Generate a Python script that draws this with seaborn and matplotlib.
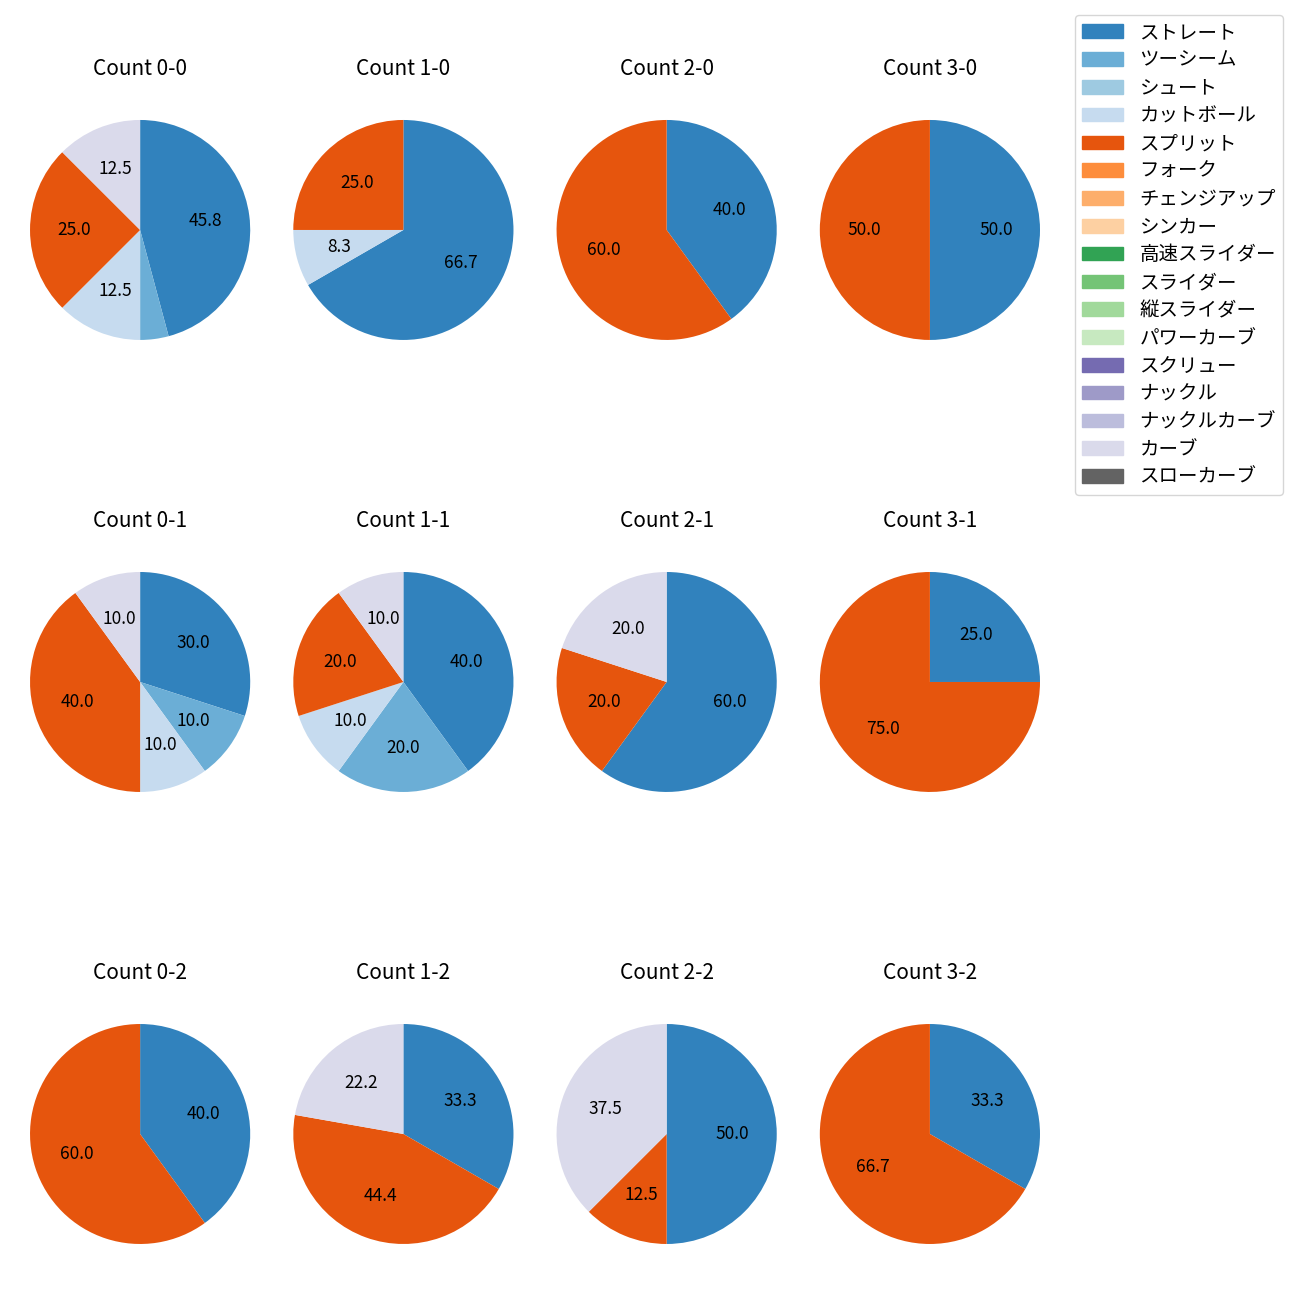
import matplotlib.pyplot as plt
import matplotlib.patches as mpatches
import seaborn as sns

# pitch types (legend order) and counts per ball-strike state
pitch_types = ["ストレート", "ツーシーム", "シュート", "カットボール", "スプリット", "フォーク",
               "チェンジアップ", "シンカー", "高速スライダー", "スライダー", "縦スライダー",
               "パワーカーブ", "スクリュー", "ナックル", "ナックルカーブ", "カーブ", "スローカーブ"]

counts = ["0-0", "1-0", "2-0", "3-0",
          "0-1", "1-1", "2-1", "3-1",
          "0-2", "1-2", "2-2", "3-2"]

# number of pitches: straight, two-seam, cutball, split, curve
straight = [11, 8, 2, 1, 3, 4, 3, 1, 2, 3, 4, 1]
two_seam = [1, 0, 0, 0, 1, 2, 0, 0, 0, 0, 0, 0]
cutball = [3, 1, 0, 0, 1, 1, 0, 0, 0, 0, 0, 0]
split = [6, 3, 3, 1, 4, 2, 1, 3, 3, 4, 1, 2]
curve = [3, 0, 0, 0, 1, 1, 1, 0, 0, 2, 3, 0]

series = {"ストレート": straight, "ツーシーム": two_seam, "カットボール": cutball,
          "スプリット": split, "カーブ": curve}

plt.rcParams['font.family'] = ['Noto Sans CJK JP', 'DejaVu Sans']

pal = sns.color_palette("tab20c", 20)
color_map = dict(zip(pitch_types, pal[:17]))

fig, axes = plt.subplots(3, 4, figsize=(13, 13))
fig.subplots_adjust(left=0.0154, right=0.8077, top=0.9358, bottom=0.015,
                    wspace=0.096, hspace=0.5427)


def autopct(p):
    return f"{p:.1f}" if p >= 5 else ""


for ax, i, name in zip(axes.flat, range(len(counts)), counts):
    vals, cols = [], []
    for p in pitch_types:
        if p in series and series[p][i] > 0:
            vals.append(series[p][i])
            cols.append(color_map[p])
    ax.pie(vals, colors=cols, startangle=90, counterclock=False,
           autopct=autopct, textprops={"fontsize": 12.5},
           wedgeprops={"linewidth": 0})
    ax.set_aspect("auto")
    ax.set_xlim(-1.0909, 1.0909)
    ax.set_ylim(-1.332, 1.332)
    ax.set_title(f"Count {name}", fontsize=15)

handles = [mpatches.Patch(color=color_map[p], label=p) for p in pitch_types]
fig.legend(handles=handles, loc="upper right", bbox_to_anchor=(0.9869, 0.9885),
           borderaxespad=0, fontsize=14, labelspacing=0.35, handlelength=2.06,
           handletextpad=0.87, borderpad=0.36)

plt.savefig("out.png", dpi=100)
